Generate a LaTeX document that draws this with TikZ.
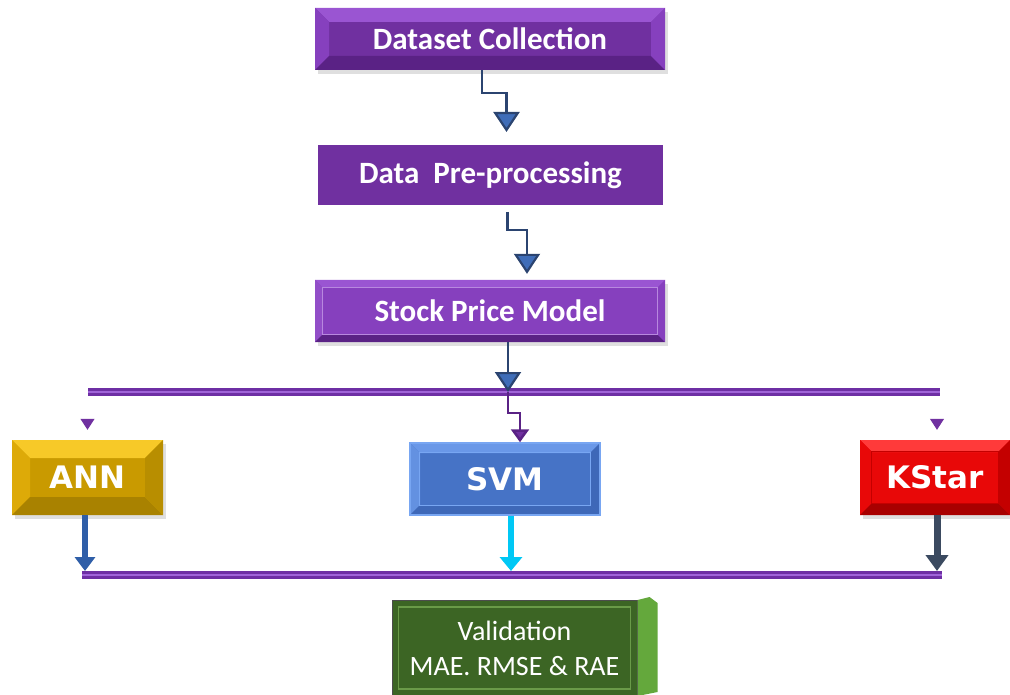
\documentclass[tikz,border=0pt]{standalone}
\usepackage{fontspec}
\newfontfamily\calfont{Carlito}
\newfontfamily\dvsfont{DejaVu Sans}
\usetikzlibrary{arrows.meta,shadows,calc}
\definecolor{purp}{HTML}{7030A0}
\definecolor{purpL}{HTML}{9A55D2}
\definecolor{purpM}{HTML}{8640BE}
\definecolor{purpD}{HTML}{5A2285}
\definecolor{busD}{HTML}{6E2FA4}
\definecolor{busL}{HTML}{A064D8}
\definecolor{conn}{HTML}{2B4470}
\definecolor{tipblue}{HTML}{3F6DB8}
\definecolor{goldF}{HTML}{C99A00}
\definecolor{goldT}{HTML}{F7C928}
\definecolor{goldL}{HTML}{DDAA08}
\definecolor{goldB}{HTML}{A98200}
\definecolor{goldR}{HTML}{B88E00}
\definecolor{svmF}{HTML}{4673C6}
\definecolor{svmL}{HTML}{78A6F2}
\definecolor{svmT}{HTML}{6A98E8}
\definecolor{svmB}{HTML}{3E68B8}
\definecolor{redF}{HTML}{E80808}
\definecolor{redT}{HTML}{FF3A3A}
\definecolor{redB}{HTML}{A80000}
\definecolor{redR}{HTML}{C40000}
\definecolor{greenF}{HTML}{3C6524}
\definecolor{greenL}{HTML}{6A9A48}
\definecolor{greenS}{HTML}{64A83C}
\definecolor{cyanA}{HTML}{00C8F5}
\definecolor{slateA}{HTML}{3B4A60}
\definecolor{annblue}{HTML}{2F5EA8}
\tikzset{
  bevel/.style n args={5}{path picture={
    \path (path picture bounding box.north west) coordinate (pnw)
          (path picture bounding box.north east) coordinate (pne)
          (path picture bounding box.south west) coordinate (psw)
          (path picture bounding box.south east) coordinate (pse);
    \fill[#2] (pnw) -- (pne) -- ([shift={(-#1,-#1)}]pne) -- ([shift={(#1,-#1)}]pnw) -- cycle;
    \fill[#3] (pnw) -- (psw) -- ([shift={(#1,#1)}]psw) -- ([shift={(#1,-#1)}]pnw) -- cycle;
    \fill[#4] (psw) -- (pse) -- ([shift={(-#1,#1)}]pse) -- ([shift={(#1,#1)}]psw) -- cycle;
    \fill[#5] (pne) -- (pse) -- ([shift={(-#1,#1)}]pse) -- ([shift={(-#1,-#1)}]pne) -- cycle;
  }},
  shad/.style={drop shadow={opacity=0.25,shadow xshift=3pt,shadow yshift=-4pt}},
  pbox/.style={rectangle, text=white, font=\calfont\bfseries\fontsize{31}{34}\selectfont,
     minimum width=350pt, minimum height=62pt, inner sep=0pt},
  mbox/.style={rectangle, text=white, font=\dvsfont\bfseries\fontsize{31}{34}\selectfont,
     minimum height=75pt, inner sep=0pt},
  conline/.style={draw=conn, line width=2.2pt,
     -{Triangle[width=26pt,length=20pt,fill=tipblue]}},
  bus/.style={draw=busD, line width=3pt, double=busL, double distance=2.5pt},
  smalltip/.style={draw=white, line width=1pt,
     -{Triangle[width=14pt,length=11pt,fill=purp,color=purp]}},
}
\begin{document}
\begin{tikzpicture}[x=1pt,y=-1pt]
\useasboundingbox (0,0) rectangle (1010,695);

% top chain
\node[pbox, shad, fill=purp, bevel={14pt}{purpL}{purpM}{purpD}{purpM}] (dc) at (490,39) {Dataset Collection};
\node[pbox, shad, fill=purp, draw=white, line width=7pt, minimum width=352pt, minimum height=67pt] (dp) at (490.5,175) {Data~~Pre-processing};
\node[pbox, shad, fill=purpM, bevel={8pt}{purpL}{purpL!80!purp}{purpD}{purpM}] (spm) at (490,311) {Stock Price Model};
\draw[draw=purpL!70!white, line width=1pt] ([shift={(8pt,-8pt)}]spm.north west) rectangle ([shift={(-8pt,8pt)}]spm.south east);

\draw[conline, shorten >=6pt] ([xshift=-8pt]dc.south) -- ++(0,23) -| ([xshift=16pt]dp.north);
\draw[conline, shorten >=6pt] ([xshift=17pt]dp.south) -- ++(0,18) -| ([xshift=37pt]spm.north);

% buses
\coordinate (b1L) at (88,392);
\coordinate (b1R) at (940,392);
\coordinate (b2L) at (82,575);
\coordinate (b2R) at (942,575);
\draw[bus] (b1L) -- (b1R);

\draw[conline] ([xshift=18pt]spm.south) -- ([xshift=18pt]spm.south |- b1L);

% models
\node[mbox, shad, fill=goldF, minimum width=151pt, bevel={18pt}{goldT}{goldL}{goldB}{goldR}] (ann) at (87.5,477.5) {ANN};
\node[mbox, fill=svmF, draw=svmL, line width=1.5pt, minimum width=190pt, minimum height=72pt, bevel={10pt}{svmT}{svmT!80!svmF}{svmB}{svmB}] (svm) at (505,479) {SVM};
\draw[draw=svmL, line width=1pt] ([shift={(10pt,-10pt)}]svm.north west) rectangle ([shift={(-10pt,10pt)}]svm.south east);
\node[mbox, shad, fill=redF, minimum width=150pt, bevel={12pt}{redT}{redF}{redB}{redR}] (ks) at (935,477.5) {KStar};
\draw[draw=redR, line width=1pt] ([shift={(12pt,-12pt)}]ks.north west) rectangle ([shift={(-12pt,12pt)}]ks.south east);

% connectors from bus to models
\draw[draw=purpD, line width=2.5pt, -{Triangle[width=18pt,length=13pt,fill=purp]}]
  ([xshift=3pt]svm.north |- b1L) -- ++(0,21) -| ([xshift=15pt]svm.north);
\draw[smalltip, shorten >=10pt] (ann.north |- b1L) ++(0,12) -- (ann.north);
\draw[smalltip, shorten >=10pt] ([xshift=2pt]ks.north |- b1L) ++(0,12) -- ([xshift=2pt]ks.north);

% down arrows
\draw[draw=annblue, line width=6pt, -{Triangle[width=20pt,length=14pt,fill=annblue]}, shorten >=4pt]
  ([xshift=-2.5pt]ann.south) -- ([xshift=-2.5pt]ann.south |- b2L);
\draw[draw=cyanA, line width=6pt, -{Triangle[width=22pt,length=14pt,fill=cyanA]}, shorten >=4pt]
  ([xshift=6pt]svm.south) -- ([xshift=6pt]svm.south |- b2L);
\draw[draw=slateA, line width=7pt, -{Triangle[width=22pt,length=16pt,fill=slateA]}, shorten >=4pt]
  ([xshift=2pt]ks.south) -- ([xshift=2pt]ks.south |- b2L);

\draw[bus] (b2L) -- (b2R);

% validation
\node[rectangle, shad, fill=greenF, draw=black!70, line width=1pt, minimum width=245pt, minimum height=95pt,
      text=white, align=center, inner sep=0pt,
      font=\calfont\fontsize{28}{35}\selectfont] (val) at (514.5,648) {Validation\\MAE. RMSE \& RAE};
\fill[greenS] (val.north east) -- +(12pt,3pt) -- +(20pt,-3pt) -- ([shift={(20pt,4pt)}]val.south east) -- (val.south east) -- cycle;
\draw[draw=greenL, line width=1.2pt] ([shift={(7pt,-7pt)}]val.north west) rectangle ([shift={(-7pt,7pt)}]val.south east);
\end{tikzpicture}
\end{document}
